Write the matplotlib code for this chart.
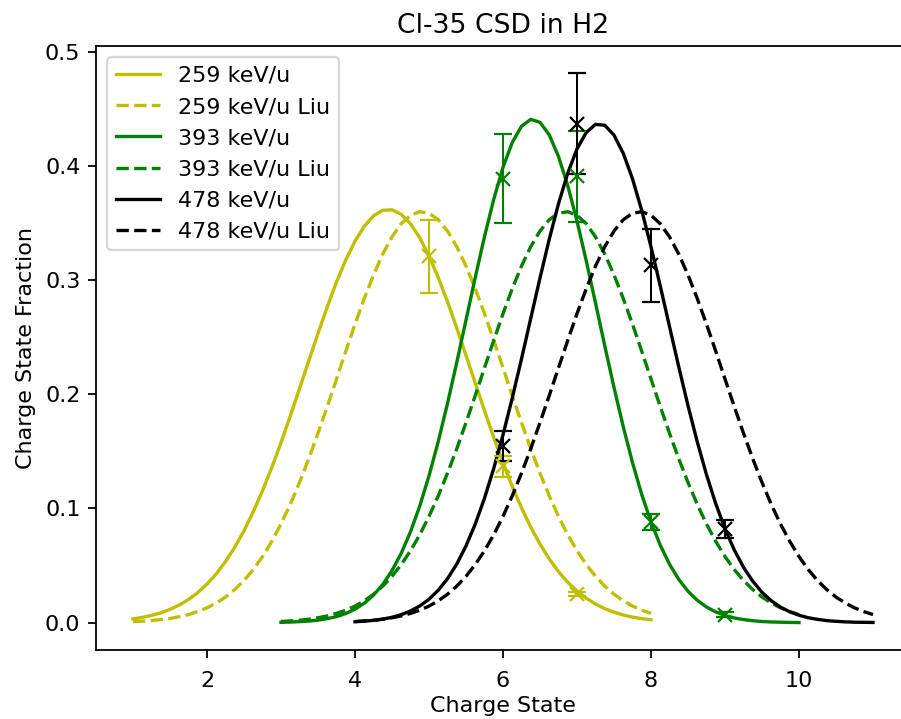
import numpy as np
import matplotlib
matplotlib.use('Agg')
import matplotlib.pyplot as plt

#charge state grids for the fitted curves
q_259 = np.linspace(1, 8, 57)
q_393 = np.linspace(3, 10, 57)
q_478 = np.linspace(4, 11, 57)

#fitted charge state fractions
f_259 = [0.0033, 0.0046, 0.0063, 0.0086, 0.0116, 0.0154, 0.0203, 0.0263, 0.0338, 0.0427,
         0.0535, 0.0660, 0.0805, 0.0971, 0.1155, 0.1358, 0.1577, 0.1809, 0.2049, 0.2293,
         0.2533, 0.2766, 0.2983, 0.3177, 0.3341, 0.3472, 0.3563, 0.3612, 0.3616, 0.3576,
         0.3493, 0.3371, 0.3212, 0.3023, 0.2811, 0.2581, 0.2341, 0.2098, 0.1856, 0.1622,
         0.1400, 0.1194, 0.1006, 0.0837, 0.0688, 0.0558, 0.0447, 0.0354, 0.0277, 0.0214,
         0.0163, 0.0123, 0.0092, 0.0067, 0.0049, 0.0035, 0.0025]
f_259_liu = [0.0009, 0.0013, 0.0019, 0.0027, 0.0037, 0.0052, 0.0071, 0.0097, 0.0130, 0.0172,
             0.0224, 0.0290, 0.0369, 0.0465, 0.0579, 0.0712, 0.0864, 0.1036, 0.1228, 0.1436,
             0.1659, 0.1893, 0.2134, 0.2377, 0.2614, 0.2839, 0.3046, 0.3228, 0.3379, 0.3494,
             0.3568, 0.3599, 0.3586, 0.3529, 0.3430, 0.3293, 0.3123, 0.2925, 0.2706, 0.2472,
             0.2232, 0.1989, 0.1752, 0.1523, 0.1309, 0.1110, 0.0931, 0.0770, 0.0630, 0.0509,
             0.0406, 0.0320, 0.0249, 0.0191, 0.0145, 0.0109, 0.0081]
f_393 = [0.0003, 0.0005, 0.0009, 0.0014, 0.0022, 0.0035, 0.0053, 0.0080, 0.0118, 0.0170,
         0.0241, 0.0335, 0.0456, 0.0608, 0.0796, 0.1021, 0.1286, 0.1586, 0.1920, 0.2278,
         0.2650, 0.3023, 0.3381, 0.3708, 0.3988, 0.4205, 0.4348, 0.4408, 0.4382, 0.4272,
         0.4083, 0.3827, 0.3517, 0.3169, 0.2800, 0.2425, 0.2060, 0.1716, 0.1402, 0.1122,
         0.0882, 0.0679, 0.0512, 0.0379, 0.0275, 0.0196, 0.0137, 0.0094, 0.0063, 0.0041,
         0.0027, 0.0017, 0.0010, 0.0006, 0.0004, 0.0002, 0.0001]
f_393_liu = [0.0010, 0.0015, 0.0021, 0.0030, 0.0043, 0.0059, 0.0081, 0.0109, 0.0145, 0.0191,
             0.0249, 0.0320, 0.0406, 0.0509, 0.0630, 0.0770, 0.0931, 0.1110, 0.1309, 0.1523,
             0.1752, 0.1989, 0.2232, 0.2472, 0.2706, 0.2925, 0.3123, 0.3293, 0.3430, 0.3529,
             0.3586, 0.3599, 0.3568, 0.3494, 0.3379, 0.3228, 0.3046, 0.2839, 0.2614, 0.2377,
             0.2134, 0.1893, 0.1659, 0.1436, 0.1228, 0.1036, 0.0864, 0.0712, 0.0579, 0.0465,
             0.0369, 0.0290, 0.0224, 0.0172, 0.0130, 0.0097, 0.0071]
f_478 = [0.0008, 0.0013, 0.0020, 0.0031, 0.0047, 0.0070, 0.0102, 0.0146, 0.0205, 0.0284,
         0.0385, 0.0513, 0.0672, 0.0863, 0.1090, 0.1351, 0.1645, 0.1967, 0.2310, 0.2665,
         0.3019, 0.3358, 0.3669, 0.3937, 0.4149, 0.4293, 0.4364, 0.4356, 0.4270, 0.4111,
         0.3887, 0.3610, 0.3292, 0.2949, 0.2594, 0.2241, 0.1901, 0.1584, 0.1296, 0.1042,
         0.0822, 0.0637, 0.0485, 0.0363, 0.0266, 0.0192, 0.0136, 0.0095, 0.0065, 0.0043,
         0.0029, 0.0018, 0.0012, 0.0007, 0.0004, 0.0003, 0.0002]
f_478_liu = [0.0010, 0.0015, 0.0021, 0.0030, 0.0043, 0.0059, 0.0081, 0.0109, 0.0145, 0.0191,
             0.0249, 0.0320, 0.0406, 0.0509, 0.0630, 0.0770, 0.0931, 0.1110, 0.1309, 0.1523,
             0.1752, 0.1989, 0.2232, 0.2472, 0.2706, 0.2925, 0.3123, 0.3293, 0.3430, 0.3529,
             0.3586, 0.3599, 0.3568, 0.3494, 0.3379, 0.3228, 0.3046, 0.2839, 0.2614, 0.2377,
             0.2134, 0.1893, 0.1659, 0.1436, 0.1228, 0.1036, 0.0864, 0.0712, 0.0579, 0.0465,
             0.0369, 0.0290, 0.0224, 0.0172, 0.0130, 0.0097, 0.0071]

#measured fractions with errors
q_meas_259 = [5, 6, 7]
y_meas_259 = [0.321, 0.137, 0.025]
e_meas_259 = [0.032, 0.009, 0.002]

q_meas_393 = [6, 7, 8, 9]
y_meas_393 = [0.389, 0.391, 0.088, 0.007]
e_meas_393 = [0.039, 0.040, 0.007, 0.002]

q_meas_478 = [6, 7, 8, 9]
y_meas_478 = [0.155, 0.437, 0.313, 0.082]
e_meas_478 = [0.013, 0.044, 0.032, 0.008]

#figure (the right edge of the axes runs past the image border)
dpi = 160
fig = plt.figure(figsize=(901/dpi, 719/dpi), dpi=dpi)
ax = fig.add_axes([96/901, 69/719, 814/901, 604/719])

ax.plot(q_259, f_259, 'y-', label='259 keV/u')
ax.plot(q_259, f_259_liu, 'y--', label='259 keV/u Liu')
ax.plot(q_393, f_393, 'g-', label='393 keV/u')
ax.plot(q_393, f_393_liu, 'g--', label='393 keV/u Liu')
ax.plot(q_478, f_478, 'k-', label='478 keV/u')
ax.plot(q_478, f_478_liu, 'k--', label='478 keV/u Liu')

ax.errorbar(q_meas_259, y_meas_259, yerr=e_meas_259, fmt='yx', capsize=4, elinewidth=0.9)
ax.errorbar(q_meas_393, y_meas_393, yerr=e_meas_393, fmt='gx', capsize=4, elinewidth=0.9)
ax.errorbar(q_meas_478, y_meas_478, yerr=e_meas_478, fmt='kx', capsize=4, elinewidth=0.9)

ax.tick_params(axis='x', pad=6)
ax.set_title('Cl-35 CSD in H2')
ax.set_xlabel('Charge State', labelpad=2)
ax.set_ylabel('Charge State Fraction')
ax.legend(loc='upper left')

fig.savefig('out.png', dpi=dpi)
